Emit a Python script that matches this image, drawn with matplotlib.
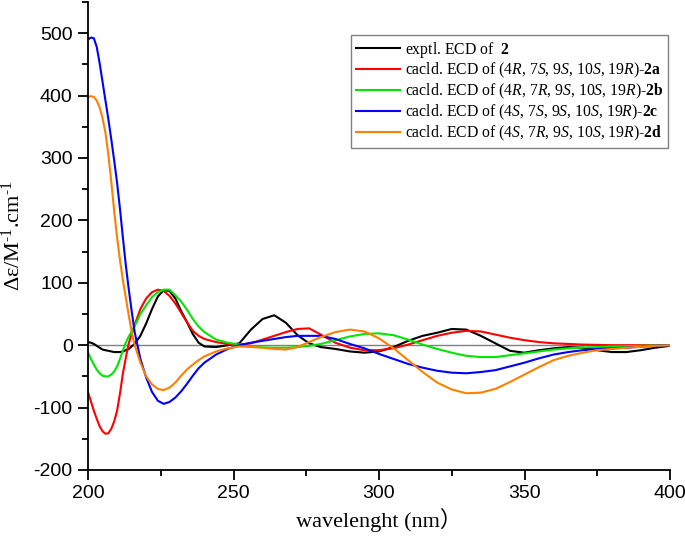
import matplotlib
matplotlib.use("Agg")
import matplotlib.pyplot as plt
from matplotlib.ticker import MultipleLocator

plt.rcParams['mathtext.fontset'] = 'custom'
plt.rcParams['mathtext.rm'] = 'Liberation Serif'
plt.rcParams['mathtext.it'] = 'Liberation Serif:italic'
plt.rcParams['mathtext.bf'] = 'Liberation Serif:bold'
plt.rcParams['axes.unicode_minus'] = False

wl = [200, 201, 202, 203, 204, 205, 206, 207, 208, 209, 210, 211, 212, 213, 214,
      215, 216, 218, 220, 222, 224, 226, 228,
      230, 232, 234, 236, 238, 240, 244, 248, 252, 256, 260, 264, 268, 272, 276,
      280, 285, 290, 295, 300, 305, 310, 315, 320, 325, 330, 335, 340, 345, 350,
      355, 360, 365, 370, 375, 380, 385, 390, 395, 400]

exptl = [5, 4, 2, -1, -4, -7, -8, -9, -10, -11, -11, -11, -10, -8, -6,
         -2, 2, 15, 35, 58, 78, 88, 87,
         75, 55, 37, 18, 4, -2, -3, 0, 3, 25, 42, 48, 36, 16, 3,
         -3, -6, -10, -12, -10, -3, 7, 15, 20, 26, 25, 15, 3, -9, -12,
         -8, -5, -3, -4, -8, -11, -11, -8, -4, -1]

calc_2a = [-75, -90, -105, -118, -130, -138, -142, -141, -134, -122, -105, -77, -45, -20, 3,
           18, 32, 58, 75, 85, 89, 87, 79,
           67, 52, 37, 23, 15, 10, 5, 2, 1, 3, 9, 15, 21, 26, 27,
           17, 4, -4, -8, -8, -5, 1, 8, 15, 20, 23, 22, 17, 12, 8,
           5, 3, 2, 1, 0.5, 0, 0, 0, 0, 0]

calc_2b = [-11, -22, -31, -39, -45, -49, -50, -50, -47, -42, -34, -22, -8, 4, 14,
           22, 30, 50, 64, 77, 85, 89, 89,
           80, 70, 57, 42, 30, 21, 9, 4, 1, -2, -3.5, -4, -4, -3, -1,
           2, 8, 14, 18, 19, 16, 9, 1, -6, -12, -17, -19, -19, -16, -13,
           -10, -7, -5, -3.5, -3, -2, -1.5, -1, -0.5, 0]

calc_2c = [490, 493, 492, 478, 452, 422, 392, 362, 330, 296, 260, 218, 172, 128, 90,
           55, 22, -22, -52, -75, -89, -94, -91,
           -84, -74, -62, -49, -37, -28, -15, -6, 0, 4, 7, 10, 13, 15, 15,
           15, 10, 2, -5, -14, -22, -30, -36, -41, -44, -45, -43, -40, -34, -28,
           -21, -15, -11, -8, -6, -5, -4, -2.5, -1, 0]

calc_2d = [398, 399, 398, 392, 381, 364, 340, 305, 262, 215, 172, 136, 104, 76, 48,
           22, 1, -28, -50, -63, -70, -72, -68,
           -60, -49, -39, -31, -24, -18, -10, -5, -2, -3, -4, -6, -7, -3, 5,
           13, 21, 25, 22, 11, -5, -24, -43, -60, -71, -77, -76, -70, -59, -47,
           -35, -24, -17, -12, -8, -6, -4, -2.5, -1, 0]

labels = [
    r'exptl. ECD of  $\bf{2}$',
    r'cacld. ECD of (4$\it{R}$, 7$\it{S}$, 9$\it{S}$, 10$\it{S}$, 19$\it{R}$)-$\bf{2a}$',
    r'cacld. ECD of (4$\it{R}$, 7$\it{R}$, 9$\it{S}$, 10$\it{S}$, 19$\it{R}$)-$\bf{2b}$',
    r'cacld. ECD of (4$\it{S}$, 7$\it{S}$, 9$\it{S}$, 10$\it{S}$, 19$\it{R}$)-$\bf{2c}$',
    r'cacld. ECD of (4$\it{S}$, 7$\it{R}$, 9$\it{S}$, 10$\it{S}$, 19$\it{R}$)-$\bf{2d}$',
]
colors = ['black', '#ff0000', '#00e600', '#0000ff', '#ff8000']

fig = plt.figure(figsize=(6.85, 5.39), dpi=100)
ax = fig.add_axes([88 / 685, 69 / 539, 582 / 685, 468 / 539])

ax.plot([200, 400], [0, 0], color='#808080', lw=1.0)
for ys, c, lab in zip([exptl, calc_2a, calc_2b, calc_2c, calc_2d], colors, labels):
    ax.plot(wl, ys, color=c, lw=1.5, label=lab)

ax.set_xlim(200, 400)
ax.set_ylim(-200, 550)
ax.spines['top'].set_visible(False)
ax.spines['right'].set_visible(False)
ax.spines['left'].set_linewidth(1.3)
ax.spines['bottom'].set_linewidth(1.3)
ax.xaxis.set_major_locator(MultipleLocator(50))
ax.xaxis.set_minor_locator(MultipleLocator(25))
ax.yaxis.set_major_locator(MultipleLocator(100))
ax.yaxis.set_minor_locator(MultipleLocator(50))
ax.tick_params(which='major', direction='out', length=7, width=1.3, pad=4)
ax.tick_params(which='minor', direction='out', length=4, width=1.3)
for t in ax.get_xticklabels() + ax.get_yticklabels():
    t.set_fontfamily('Liberation Sans')
    t.set_fontsize(14)

ax.set_xlabel('wavelenght (nm）', family=['Liberation Serif', 'Noto Sans CJK SC'],
              fontsize=16, labelpad=4)
ax.set_ylabel(r'Δε/M$^{\text{-1}}$.cm$^{\text{-1}}$', family='Liberation Serif',
              fontsize=16, labelpad=6)

leg = ax.legend(loc='upper right', bbox_to_anchor=(668 / 685, 1 - 35 / 539),
                bbox_transform=fig.transFigure, borderaxespad=0,
                prop={'family': 'Liberation Serif', 'size': 11.3},
                handlelength=2.8, handletextpad=0.3, borderpad=0.3,
                labelspacing=0.1, fancybox=False, framealpha=1)
leg.get_frame().set_edgecolor('#808080')
leg.get_frame().set_linewidth(1.0)

fig.savefig('out.png', dpi=100)
